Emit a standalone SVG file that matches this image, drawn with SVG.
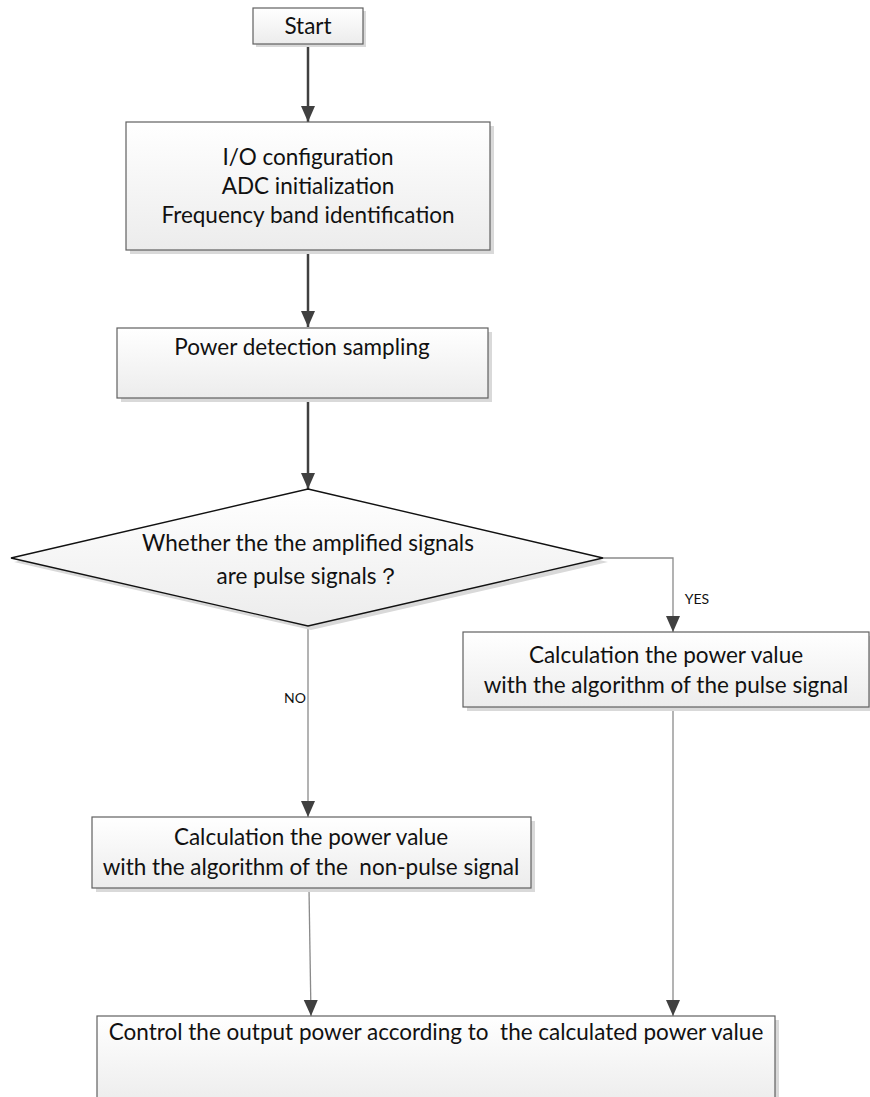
<svg xmlns="http://www.w3.org/2000/svg" width="870" height="1097" viewBox="0 0 870 1097">
<defs>
<linearGradient id="g" x1="0" y1="0" x2="0" y2="1">
<stop offset="0" stop-color="#ffffff"/>
<stop offset="1" stop-color="#ececec"/>
</linearGradient>
<marker id="a" markerUnits="userSpaceOnUse" viewBox="-17 -8 18 16" refX="0" refY="0" markerWidth="18" markerHeight="16" orient="auto">
<path d="M0,0 L-16,-7 L-16,7 Z" fill="#404040"/>
</marker>
</defs>
<style>
.box{fill:url(#g);stroke:#606060;stroke-width:1.2}
.sh{fill:#d9d9d9}
.t{font-family:Lato,"Liberation Sans",sans-serif;font-size:22.5px;fill:#111;text-anchor:middle}
.s{font-family:Lato,"Liberation Sans",sans-serif;font-size:14px;fill:#111;text-anchor:middle}
.thick{stroke:#404040;stroke-width:2.5;fill:none}
.thin{stroke:#8a8a8a;stroke-width:1.3;fill:none}
</style>
<g id="connectors">
<line class="thick" x1="308" y1="44" x2="308" y2="122" marker-end="url(#a)"/>
<line class="thick" x1="308" y1="250" x2="308" y2="327" marker-end="url(#a)"/>
<line class="thick" x1="308" y1="398" x2="308" y2="489" marker-end="url(#a)"/>
<polyline class="thin" points="603,558 673,558 673,632" marker-end="url(#a)"/>
<line class="thin" x1="308" y1="626" x2="308" y2="817" marker-end="url(#a)"/>
<line class="thin" x1="673" y1="708" x2="673" y2="1016" marker-end="url(#a)"/>
<line class="thin" x1="309" y1="889" x2="311" y2="1016" marker-end="url(#a)"/>
<text class="s" x="697" y="604">YES</text>
<text class="s" x="295" y="703">NO</text>
</g>
<g id="start">
<rect class="sh" x="256" y="11" width="110" height="36"/>
<rect class="box" x="253" y="8" width="110" height="36"/>
<text class="t" x="308" y="34">Start</text>
</g>
<g id="init">
<rect class="sh" x="130" y="126" width="364" height="128"/>
<rect class="box" x="126" y="122" width="364" height="128"/>
<text class="t" x="308" y="165">I/O configuration</text>
<text class="t" x="308" y="194">ADC initialization</text>
<text class="t" x="308" y="223">Frequency band identification</text>
</g>
<g id="sampling">
<rect class="sh" x="121" y="332" width="371" height="70"/>
<rect class="box" x="117" y="328" width="371" height="70"/>
<text class="t" x="302" y="355">Power detection sampling</text>
</g>
<g id="decision">
<polygon class="sh" points="311,493 608,562 311,630 14,562"/>
<polygon points="308,489 603,558 308,626 11,558" fill="url(#g)" stroke="#111" stroke-width="1.4"/>
<text class="t" x="308" y="551">Whether the the amplified signals</text>
<text class="t" x="308" y="584">are pulse signals？</text>
</g>
<g id="pulse">
<rect class="sh" x="467" y="636" width="406" height="75"/>
<rect class="box" x="463" y="632" width="406" height="75"/>
<text class="t" x="666" y="663">Calculation the power value</text>
<text class="t" x="666" y="693">with the algorithm of the pulse signal</text>
</g>
<g id="nonpulse">
<rect class="sh" x="96" y="821" width="439" height="71"/>
<rect class="box" x="92" y="817" width="439" height="71"/>
<text class="t" x="311" y="845">Calculation the power value</text>
<text class="t" x="311" y="875" xml:space="preserve">with the algorithm of the  non-pulse signal</text>
</g>
<g id="control">
<rect class="sh" x="101" y="1020" width="678" height="90"/>
<rect class="box" x="97" y="1016" width="678" height="90"/>
<text class="t" x="436" y="1040" xml:space="preserve">Control the output power according to  the calculated power value</text>
</g>
</svg>
